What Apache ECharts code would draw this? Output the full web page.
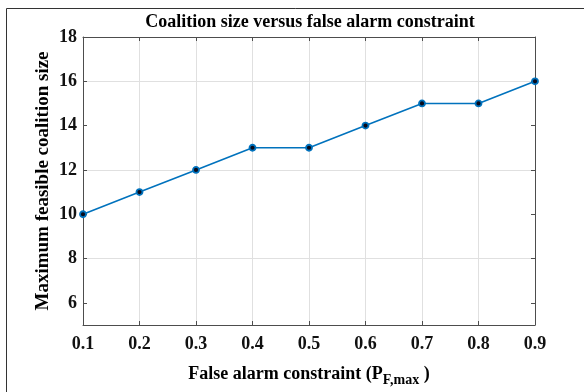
<!DOCTYPE html>
<html>
<head>
<meta charset="utf-8">
<script src="https://cdn.jsdelivr.net/npm/echarts@6/dist/echarts.min.js"></script>
<style>
  html, body { margin: 0; padding: 0; background: #fff; }
  #chart { width: 584px; height: 392px; }
</style>
</head>
<body>
<div id="chart"></div>
<script>
// false alarm constraint P_F,max
const falseAlarm = [0.1, 0.2, 0.3, 0.4, 0.5, 0.6, 0.7, 0.8, 0.9];
// maximum feasible coalition size
const coalitionSize = [10, 11, 12, 13, 13, 14, 15, 15, 16];
const yTicks = [6, 8, 10, 12, 14, 16, 18];

const font = "'Liberation Serif', 'Times New Roman', serif";
const axisGray = "#4d4d4d";
const gridGray = "#e0e0e0";

const chart = echarts.init(document.getElementById("chart"));
chart.setOption({
  animation: false,
  title: {
    text: "Coalition size versus false alarm constraint",
    left: 305,
    top: 8,
    textAlign: "center",
    textStyle: { fontFamily: font, fontWeight: "bold", fontSize: 18, color: "#000" },
  },
  graphic: [
    {
      type: "rect",
      shape: { x: 6.5, y: 8.5, width: 700, height: 500 },
      style: { fill: "none", stroke: "#333", lineWidth: 1 },
      silent: true,
    },
  ],
  grid: { left: 83, right: 49, top: 37, bottom: 63 },
  xAxis: [
    {
      type: "value",
      min: 0.1,
      max: 0.9,
      interval: 0.1,
      name: "{a|False alarm constraint (P}{s|F,max}{a| )}",
      nameLocation: "middle",
      nameGap: 36,
      nameTextStyle: {
        rich: {
          a: { fontFamily: font, fontWeight: "bold", fontSize: 18, color: "#000" },
          s: { fontFamily: font, fontWeight: "bold", fontSize: 14, color: "#000", padding: [12, 0, 0, 0] },
        },
      },
      axisLine: { show: true, lineStyle: { color: axisGray, width: 1 } },
      axisTick: { show: true, inside: true, length: 4, lineStyle: { color: axisGray } },
      axisLabel: {
        fontFamily: font, fontWeight: "bold", fontSize: 18, color: "#111", margin: 10,
        formatter: (v) => v.toFixed(1),
      },
      splitLine: { show: true, lineStyle: { color: gridGray, width: 1 } },
    },
    {
      type: "value",
      position: "top",
      min: 0.1,
      max: 0.9,
      interval: 0.1,
      axisLine: { show: true, lineStyle: { color: axisGray, width: 1 } },
      axisTick: { show: true, inside: true, length: 4, lineStyle: { color: axisGray } },
      axisLabel: { show: false },
      splitLine: { show: false },
    },
  ],
  yAxis: [
    {
      type: "value",
      min: 5,
      max: 18,
      interval: 1,
      name: "Maximum feasible coalition size",
      nameLocation: "middle",
      nameGap: 30,
      nameMoveOverlap: false,
      nameTextStyle: { fontFamily: font, fontWeight: "bold", fontSize: 19, color: "#000" },
      axisLine: { show: true, lineStyle: { color: axisGray, width: 1 } },
      axisTick: { show: true, inside: true, length: 4, customValues: yTicks, lineStyle: { color: axisGray } },
      axisLabel: {
        fontFamily: font, fontWeight: "bold", fontSize: 18, color: "#111", margin: 6,
        customValues: yTicks,
      },
      splitLine: { show: true, lineStyle: { color: ["rgba(0,0,0,0)", gridGray], width: 1 } },
    },
    {
      type: "value",
      position: "right",
      min: 5,
      max: 18,
      interval: 1,
      axisLine: { show: true, lineStyle: { color: axisGray, width: 1 } },
      axisTick: { show: true, inside: true, length: 4, customValues: yTicks, lineStyle: { color: axisGray } },
      axisLabel: { show: false },
      splitLine: { show: false },
    },
  ],
  series: [
    {
      type: "line",
      data: falseAlarm.map((x, i) => [x, coalitionSize[i]]),
      symbol: "circle",
      symbolSize: 6,
      showSymbol: true,
      clip: false,
      lineStyle: { color: "#0072BD", width: 1.6 },
      itemStyle: { color: "#0a0a1a", borderColor: "#0072BD", borderWidth: 1.8 },
    },
  ],
});
</script>
</body>
</html>
